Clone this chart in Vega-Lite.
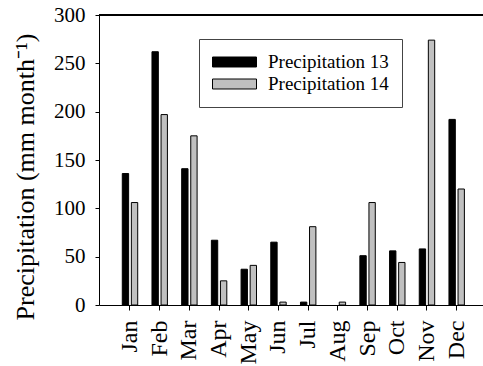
{
  "$schema": "https://vega.github.io/schema/vega-lite/v6.json",
  "autosize": {"type": "none"},
  "padding": {"left": 99, "top": 15, "right": 0, "bottom": 61},
  "width": 384,
  "height": 290,
  "background": "white",
  "config": {
    "view": {"stroke": null},
    "font": "Liberation Serif",
    "axis": {"labelFont": "Liberation Serif", "titleFont": "Liberation Serif", "labelColor": "black", "titleColor": "black", "domainColor": "black", "tickColor": "black", "grid": false, "titleFontWeight": "normal"},
    "legend": {"labelFont": "Liberation Serif"}
  },
  "data": {
    "values": [
      {"month": "Jan", "series": "Precipitation 13", "value": 136},
      {"month": "Jan", "series": "Precipitation 14", "value": 106},
      {"month": "Feb", "series": "Precipitation 13", "value": 262},
      {"month": "Feb", "series": "Precipitation 14", "value": 197},
      {"month": "Mar", "series": "Precipitation 13", "value": 141},
      {"month": "Mar", "series": "Precipitation 14", "value": 175},
      {"month": "Apr", "series": "Precipitation 13", "value": 67},
      {"month": "Apr", "series": "Precipitation 14", "value": 25},
      {"month": "May", "series": "Precipitation 13", "value": 37},
      {"month": "May", "series": "Precipitation 14", "value": 41},
      {"month": "Jun", "series": "Precipitation 13", "value": 65},
      {"month": "Jun", "series": "Precipitation 14", "value": 3},
      {"month": "Jul", "series": "Precipitation 13", "value": 3},
      {"month": "Jul", "series": "Precipitation 14", "value": 81},
      {"month": "Aug", "series": "Precipitation 13", "value": 0},
      {"month": "Aug", "series": "Precipitation 14", "value": 3},
      {"month": "Sep", "series": "Precipitation 13", "value": 51},
      {"month": "Sep", "series": "Precipitation 14", "value": 106},
      {"month": "Oct", "series": "Precipitation 13", "value": 56},
      {"month": "Oct", "series": "Precipitation 14", "value": 44},
      {"month": "Nov", "series": "Precipitation 13", "value": 58},
      {"month": "Nov", "series": "Precipitation 14", "value": 274},
      {"month": "Dec", "series": "Precipitation 13", "value": 192},
      {"month": "Dec", "series": "Precipitation 14", "value": 120}
    ]
  },
  "layer": [
    {
      "mark": {"type": "bar", "stroke": "black"},
      "encoding": {
        "x": {
          "field": "month", "type": "nominal", "sort": null,
          "scale": {"paddingInner": 0.45, "paddingOuter": 0.69, "align": 0.557},
          "axis": {"title": null, "labelAngle": -90, "labelFontSize": 24, "labelPadding": 10, "tickSize": 5, "labelAlign": "right", "labelBaseline": "middle"}
        },
        "xOffset": {"field": "series", "type": "nominal", "scale": {"paddingInner": 0.3, "paddingOuter": 0.05}},
        "y": {
          "field": "value", "type": "quantitative",
          "scale": {"domain": [0, 300], "nice": false},
          "axis": {"title": "Precipitation (mm month⁻¹)", "titleFontSize": 26, "labelFontSize": 21, "tickSize": 4, "labelPadding": 10, "values": [0, 50, 100, 150, 200, 250, 300], "titleAngle": -90, "titleAlign": "center", "titleBaseline": "alphabetic", "titleX": -66, "titleY": 161.5}
        },
        "strokeWidth": {"condition": {"test": "datum.value == 0", "value": 0}, "value": 1},
        "fill": {
          "field": "series", "type": "nominal",
          "scale": {"range": ["black", "#c0c0c0"]},
          "legend": {
            "title": null, "orient": "none", "legendX": 100, "legendY": 24,
            "strokeColor": "#444", "padding": 13,
            "symbolType": "M-1,-0.227H1V0.227H-1Z", "symbolSize": 1936,
            "symbolStrokeColor": "black", "symbolStrokeWidth": 1,
            "clipHeight": 20, "rowPadding": 2,
            "labelFontSize": 19, "labelColor": "black", "labelOffset": 11, "labelLimit": 300
          }
        }
      }
    },
    {
      "mark": {"type": "rule", "color": "black", "strokeWidth": 1},
      "encoding": {"y": {"datum": 300}}
    }
  ]
}
